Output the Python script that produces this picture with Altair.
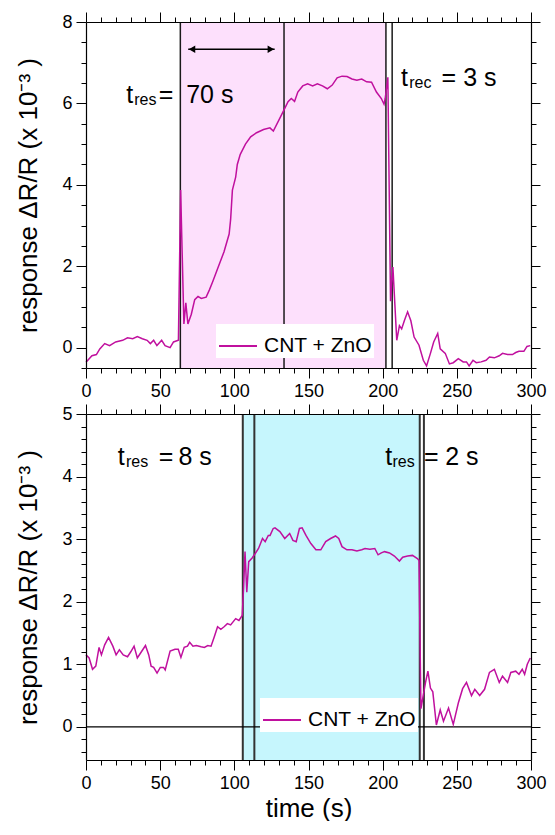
import altair as alt
import pandas as pd

FONT = "Liberation Sans"
MAGENTA = "#c0109e"
PINK = "#fde0fc"
CYAN = "#c6f6fd"

# ---------------- data ----------------
top_t = [0, 4, 7, 9.3, 12.6, 15.9, 20, 24.7, 28, 31.5, 34.6, 38, 41.2, 43.4, 45.6, 47.8, 51, 53.3,
         56.7, 59, 62.3, 63.8, 66, 67.3, 68.7, 71, 73.3, 75.5, 77.7, 81, 83.2, 85.4, 88.7, 93, 96.5,
         97.5, 98.7, 100.9, 102, 104, 107.5, 111, 115, 119.7, 124, 126.3, 130.7, 134, 136.2, 138.4,
         140.6, 142.8, 146.1, 149.4, 152.8, 156, 159.4, 162.7, 166, 169.3, 172.6, 176, 179.3, 182.6,
         185.9, 189.2, 192.5, 195.8, 199.1, 200.9, 201.7, 203.5, 205.3, 206.9, 209.5, 211.3, 212.8,
         214.6, 216.8, 219, 221.2, 224.5, 227.4, 229.6, 232.2, 234.4, 237.1, 238.8, 242.2, 245,
         247.6, 251, 254.3, 256.5, 258.3, 260.9, 263.1, 266.4, 269.7, 272, 275.3, 278.6, 280.8,
         284.2, 287.5, 289.7, 291.9, 295.2, 297.3, 299.5]
top_v = [-0.36, -0.2, -0.17, -0.03, 0.1, 0.05, 0.14, 0.18, 0.24, 0.22, 0.27, 0.22, 0.18, 0.1, 0.18,
         0.05, 0.18, 0.05, 0.0, 0.14, 0.18, 3.87, 0.58, 1.1, 0.58, 0.82, 1.18, 1.26, 1.21, 1.24,
         1.42, 1.62, 1.94, 2.35, 2.79, 3.15, 3.87, 4.19, 4.5, 4.75, 5.0, 5.18, 5.28, 5.36, 5.4, 5.32,
         5.64, 5.88, 6.04, 6.12, 6.05, 6.28, 6.43, 6.48, 6.43, 6.48, 6.43, 6.36, 6.45, 6.63, 6.67,
         6.66, 6.6, 6.57, 6.6, 6.53, 6.52, 6.28, 6.12, 5.98, 6.12, 6.64, 1.14, 1.98, 0.18, 0.54,
         0.46, 0.66, 0.88, 0.66, 0.26, 0.06, -0.31, -0.45, -0.14, 0.14, 0.35, -0.03, -0.14, -0.4,
         -0.37, -0.27, -0.35, -0.35, -0.45, -0.31, -0.37, -0.35, -0.31, -0.23, -0.25, -0.2, -0.14,
         -0.17, -0.17, -0.12, -0.09, -0.09, 0.03, 0.05]

bot_t = [0, 2.1, 4.4, 6.6, 8.8, 10.4, 12.6, 15.2, 18.1, 20.3, 22.5, 25.1, 28, 30.2, 32.4, 34.6,
         36.8, 40.1, 42.3, 43.9, 45.6, 47.9, 50.1, 52.3, 53.4, 56.7, 60, 62.2, 64, 66.2, 68.4, 69.9,
         72.1, 74.3, 77.6, 79.8, 82.1, 84.3, 86.5, 88.7, 90.9, 93.1, 95.3, 97.5, 100.9, 103.1,
         105.3, 106.2, 107.2, 108.4, 109.7, 112, 114.1, 116.3, 119, 120.8, 122.9, 124.1, 126.2,
         127.4, 130.7, 134, 137.3, 139.5, 141.7, 143.9, 145.7, 148.3, 151.6, 155, 158.3, 161.6,
         164.9, 168.2, 170.4, 172.6, 175.9, 179.3, 182.6, 185.9, 188.1, 191.4, 194.7, 196.9, 199.1,
         201.3, 204.6, 207.9, 211.3, 213.5, 216.8, 220.1, 223.4, 224.5, 225.8, 228.9, 230.5, 232.2,
         233.8, 236.2, 238.8, 241, 244.4, 247.6, 251, 253.9, 256.5, 259.9, 262.1, 265.4, 268.7,
         272, 275.3, 278.6, 280.8, 284.2, 286.4, 289.7, 291.9, 294.1, 295.7, 297.5, 299.5]
bot_v = [1.15, 1.1, 0.92, 0.97, 1.27, 1.15, 1.31, 1.43, 1.29, 1.15, 1.23, 1.15, 1.12, 1.2, 1.29,
         1.1, 1.18, 1.3, 1.15, 0.97, 0.95, 0.86, 0.95, 0.95, 0.91, 1.21, 1.24, 1.24, 1.11, 1.27,
         1.29, 1.35, 1.29, 1.3, 1.28, 1.27, 1.3, 1.29, 1.44, 1.6, 1.56, 1.6, 1.65, 1.63, 1.73, 1.7,
         1.78, 2.2, 2.8, 2.15, 2.64, 2.7, 2.77, 2.85, 3.01, 2.96, 3.06, 3.06, 3.17, 3.18, 3.12,
         3.01, 3.09, 2.98, 2.96, 3.17, 3.18, 3.06, 2.93, 2.83, 2.83, 2.96, 3.01, 3.05, 3.01, 2.88,
         2.83, 2.83, 2.81, 2.83, 2.85, 2.84, 2.85, 2.75, 2.78, 2.8, 2.78, 2.73, 2.65, 2.71, 2.73,
         2.74, 2.69, 2.66, 0.29, 0.71, 0.89, 0.62, 0.56, 0.03, 0.27, 0.09, 0.3, 0.04, 0.38, 0.61,
         0.71, 0.5, 0.6, 0.5, 0.6, 0.87, 0.92, 0.71, 0.81, 0.71, 0.87, 0.89, 0.84, 0.92, 0.84,
         1.0, 1.1]

series_name = "CNT + ZnO"

top_lines = [63.6, 133.5, 202.2, 206.4]
bot_lines = [105.7, 113.5, 225.0, 227.8]
top_band = [63.6, 202.2]
bot_band = [105.7, 225.0]

x_major = [0, 50, 100, 150, 200, 250, 300]
x_minor = [v for v in range(0, 301, 10) if v % 50]
top_ydom = [-0.5, 8]
top_y_major = [0, 2, 4, 6, 8]
top_y_minor = [-0.5, 0.5, 1, 1.5, 2.5, 3, 3.5, 4.5, 5, 5.5, 6.5, 7, 7.5]
bot_ydom = [-0.53, 5]
bot_y_major = [0, 1, 2, 3, 4, 5]
bot_y_minor = [-0.4, -0.2, 0.2, 0.4, 0.6, 0.8, 1.2, 1.4, 1.6, 1.8, 2.2, 2.4, 2.6, 2.8,
               3.2, 3.4, 3.6, 3.8, 4.2, 4.4, 4.6, 4.8]

# annotations (data coordinates)
top_big_x = [27.2, 49, 67.5, 212.3, 239.7, 254.3]
top_big_y = [6.02, 6.02, 6.02, 6.42, 6.42, 6.42]
top_big_text = ["t", "=", "70 s", "t", "=", "3 s"]
top_sub_x = [32.5, 217.9]
top_sub_y = [5.96, 6.37]
top_sub_text = ["res", "rec"]

bot_big_x = [21.4, 49, 62.3, 201.7, 227.8, 242.2]
bot_big_y = [4.18, 4.18, 4.18, 4.18, 4.18, 4.18]
bot_big_text = ["t", "=", "8 s", "t", "=", "2 s"]
bot_sub_x = [26.9, 206.6]
bot_sub_y = [4.15, 4.15]
bot_sub_text = ["res", "res"]

arrow_x = [68.9, 127.2]
arrow_head_x = [71.5, 124.6]
arrow_y = 7.33

W, H = 445, 346
YTITLE = "response ΔR/R (x 10⁻³ )"


def axis(orient, values, labels, size, title=None, domain=False):
    kw = dict(orient=orient, values=values, labels=labels, tickSize=size, grid=False,
              domain=domain, domainColor="black", domainWidth=1.2, tickColor="black",
              tickWidth=1, labelFont=FONT, labelFontSize=18, labelColor="black",
              labelFlush=False, labelOverlap=False, labelPadding=4, zindex=1)
    if title is not None:
        kw.update(title=title, titleFont=FONT, titleFontSize=26, titleFontWeight="normal",
                  titleColor="black")
    else:
        kw.update(title=None)
    return alt.Axis(**kw)


def panel(t, v, ydom, ymaj, ymin, band, band_color, lines, line_color, line_w,
          big, sub, legend_xy, xtitle, zero_line, arrow):
    xs = alt.Scale(domain=[0, 300], nice=False, zero=False)
    ys = alt.Scale(domain=ydom, nice=False, zero=False)
    df = pd.DataFrame({"t": t, "v": v, "s": [series_name] * len(t)})

    layers = []
    layers.append(
        alt.Chart(pd.DataFrame({"a": [band[0]], "b": [band[1]]}))
        .mark_rect(color=band_color)
        .encode(x=alt.X("a:Q", scale=xs, axis=None), x2="b:Q")
    )
    layers.append(
        alt.Chart(pd.DataFrame({"x": lines}))
        .mark_rule(color=line_color, strokeWidth=line_w)
        .encode(x=alt.X("x:Q", scale=xs, axis=None))
    )
    if zero_line:
        layers.append(
            alt.Chart(pd.DataFrame({"y": [0]}))
            .mark_rule(color="black", strokeWidth=1.2)
            .encode(y=alt.Y("y:Q", scale=ys, axis=None))
        )
    layers.append(
        alt.Chart(df)
        .mark_line(strokeWidth=1.5)
        .encode(
            x=alt.X("t:Q", scale=xs,
                    axis=axis("bottom", x_major, True, 10, xtitle, True)),
            y=alt.Y("v:Q", scale=ys, axis=axis("left", ymaj, True, 10, YTITLE, True)),
            color=alt.Color(
                "s:N", scale=alt.Scale(range=[MAGENTA]),
                legend=alt.Legend(orient="none", legendX=legend_xy[0], legendY=legend_xy[1],
                                  title=None, symbolType="stroke", symbolSize=1444,
                                  symbolStrokeWidth=2, labelFont=FONT, labelFontSize=21,
                                  labelColor="black", fillColor="white", padding=2,
                                  labelOffset=6),
            ),
        )
    )
    # minor ticks bottom/left
    layers.append(
        alt.Chart(df).mark_point(opacity=0).encode(
            x=alt.X("t:Q", scale=xs, axis=axis("bottom", x_minor, False, 5)),
            y=alt.Y("v:Q", scale=ys, axis=axis("left", ymin, False, 5)),
        )
    )
    # mirrored top/right
    layers.append(
        alt.Chart(df).mark_point(opacity=0).encode(
            x=alt.X("t:Q", scale=xs, axis=axis("top", x_major, False, 10, None, True)),
            y=alt.Y("v:Q", scale=ys, axis=axis("right", ymaj, False, 9, None, True)),
        )
    )
    layers.append(
        alt.Chart(df).mark_point(opacity=0).encode(
            x=alt.X("t:Q", scale=xs, axis=axis("top", x_minor, False, 5)),
            y=alt.Y("v:Q", scale=ys, axis=axis("right", ymin, False, 5)),
        )
    )
    bx, by, bt = big
    layers.append(
        alt.Chart(pd.DataFrame({"x": bx, "y": by, "txt": bt}))
        .mark_text(align="left", baseline="alphabetic", font=FONT, fontSize=25, color="black")
        .encode(x=alt.X("x:Q", scale=xs, axis=None), y=alt.Y("y:Q", scale=ys, axis=None),
                text="txt:N")
    )
    sx, sy, st = sub
    layers.append(
        alt.Chart(pd.DataFrame({"x": sx, "y": sy, "txt": st}))
        .mark_text(align="left", baseline="alphabetic", font=FONT, fontSize=16, color="black")
        .encode(x=alt.X("x:Q", scale=xs, axis=None), y=alt.Y("y:Q", scale=ys, axis=None),
                text="txt:N")
    )
    if arrow:
        layers.append(
            alt.Chart(pd.DataFrame({"a": [arrow_x[0]], "b": [arrow_x[1]], "y": [arrow_y]}))
            .mark_rule(color="black", strokeWidth=1.5)
            .encode(x=alt.X("a:Q", scale=xs, axis=None), x2="b:Q",
                    y=alt.Y("y:Q", scale=ys, axis=None))
        )
        layers.append(
            alt.Chart(pd.DataFrame({"x": arrow_head_x, "y": [arrow_y] * 2,
                                    "shape": ["triangle-left", "triangle-right"]}))
            .mark_point(filled=True, size=55, color="black", opacity=1)
            .encode(x=alt.X("x:Q", scale=xs, axis=None), y=alt.Y("y:Q", scale=ys, axis=None),
                    shape=alt.Shape("shape:N", scale=None))
        )
    return (
        alt.layer(*layers)
        .resolve_axis(x="independent", y="independent")
        .properties(width=W, height=H)
    )


top = panel(top_t, top_v, top_ydom, top_y_major, top_y_minor, top_band, PINK, top_lines,
            "#1a1a1a", 1.5, (top_big_x, top_big_y, top_big_text),
            (top_sub_x, top_sub_y, top_sub_text), (130, 302), None, False, True)
bot = panel(bot_t, bot_v, bot_ydom, bot_y_major, bot_y_minor, bot_band, CYAN, bot_lines,
            "#333333", 2, (bot_big_x, bot_big_y, bot_big_text),
            (bot_sub_x, bot_sub_y, bot_sub_text), (174, 284), "time (s)", True, False)

chart = (
    alt.vconcat(top, bot, spacing=3)
    .resolve_scale(color="independent")
    .properties(padding={"left": 7, "top": 3, "right": 0, "bottom": 0})
    .configure_view(stroke=None)
    .configure_axis(titlePadding=20)
    .configure_axisBottom(titlePadding=3)
)

chart.save("out.html", embed_options={"renderer": "svg", "actions": False})
